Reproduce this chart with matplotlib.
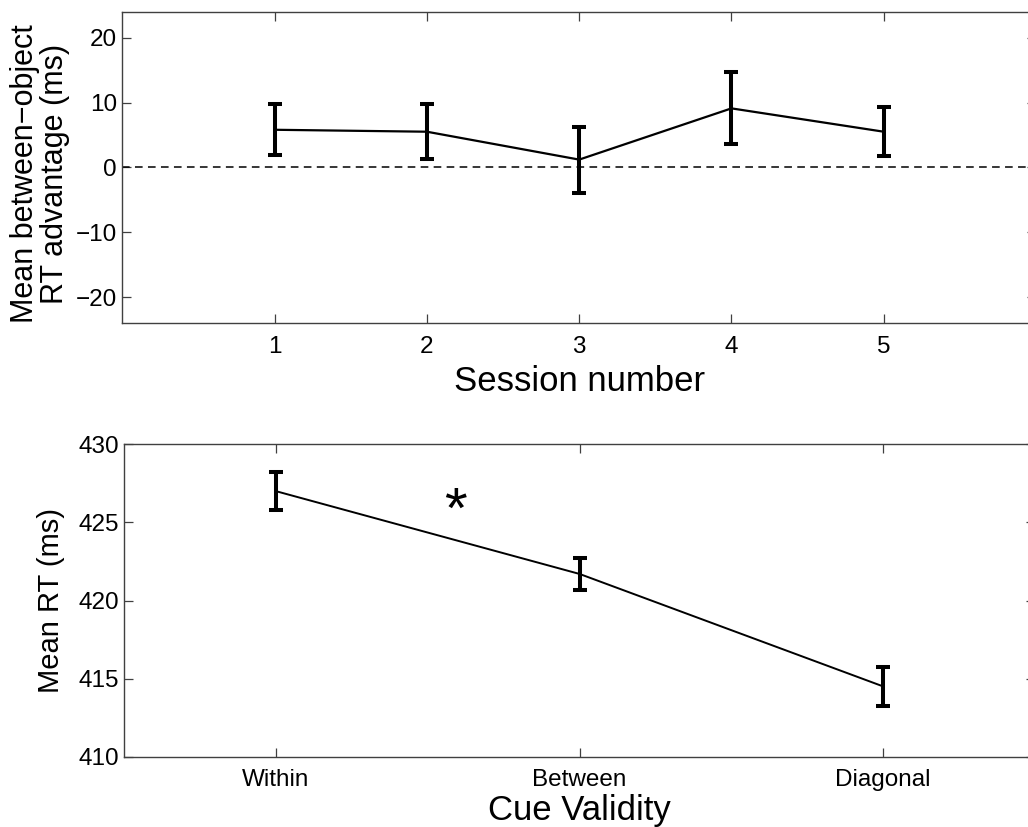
import matplotlib.pyplot as plt

plt.rcParams['font.family'] = ['Liberation Sans', 'DejaVu Sans']

# top panel: between-object advantage per session
sessions = [1, 2, 3, 4, 5]
advantage = [5.8, 5.5, 1.2, 9.1, 5.5]
advantage_err = [3.95, 4.25, 5.1, 5.55, 3.8]

# bottom panel: mean RT per cue validity
cue_labels = ['Within', 'Between', 'Diagonal']
cue_pos = [1, 2, 3]
mean_rt = [427.0, 421.7, 414.5]
mean_rt_err = [1.2, 1.05, 1.25]

# significance marker
star_x, star_y = 1.59, 426.25

spine_col = '#404040'


def style_axes(ax):
    for s in ax.spines.values():
        s.set_color(spine_col)
        s.set_linewidth(1.0)
    ax.tick_params(direction='in', length=6.5, width=0.9, color=spine_col,
                   top=True, right=True, labelsize=17.5, labelcolor='black')
    ax.tick_params(axis='x', pad=9)
    ax.tick_params(axis='y', pad=4)


fig = plt.figure(figsize=(10.28, 8.27), dpi=100)

ax1 = fig.add_axes([0.119, 0.6094, 0.8888, 0.3764])
ax1.axhline(0, color='black', linestyle=(0, (5, 3.5)), linewidth=1.1)
ax1.errorbar(sessions, advantage, yerr=advantage_err, color='black',
             linewidth=1.6, elinewidth=2.9, capsize=4.7, capthick=2.9)
ax1.set_xlim(0, 6)
ax1.set_ylim(-24, 24)
ax1.set_xticks(sessions)
ax1.set_yticks([-20, -10, 0, 10, 20])
ax1.set_yticklabels(['\u221220', '\u221210', '0', '10', '20'])
style_axes(ax1)
ax1.set_xlabel('Session number', fontsize=25)
ax1.xaxis.set_label_coords(0.5, -0.135)
ax1.set_ylabel('Mean between\u2212object\nRT advantage (ms)', fontsize=22,
               linespacing=1.0)
ax1.yaxis.set_label_coords(-0.057, 0.48)

ax2 = fig.add_axes([0.1209, 0.085, 0.8859, 0.3777])
ax2.errorbar(cue_pos, mean_rt, yerr=mean_rt_err, color='black',
             linewidth=1.4, elinewidth=2.9, capsize=4.7, capthick=2.9)
ax2.set_xlim(0.5, 3.5)
ax2.set_ylim(410, 430)
ax2.set_xticks(cue_pos)
ax2.set_xticklabels(cue_labels)
ax2.set_yticks([410, 415, 420, 425, 430])
style_axes(ax2)
ax2.set_xlabel('Cue Validity', fontsize=25)
ax2.xaxis.set_label_coords(0.5, -0.118)
ax2.set_ylabel('Mean RT (ms)', fontsize=21)
ax2.yaxis.set_label_coords(-0.065, 0.5)

star_fs = 42
ax2.annotate('*', xy=(star_x, star_y), xytext=(0, -0.17 * star_fs),
             textcoords='offset points', ha='center', va='center',
             fontsize=star_fs, color='black')

fig.savefig('out.png', dpi=100)
